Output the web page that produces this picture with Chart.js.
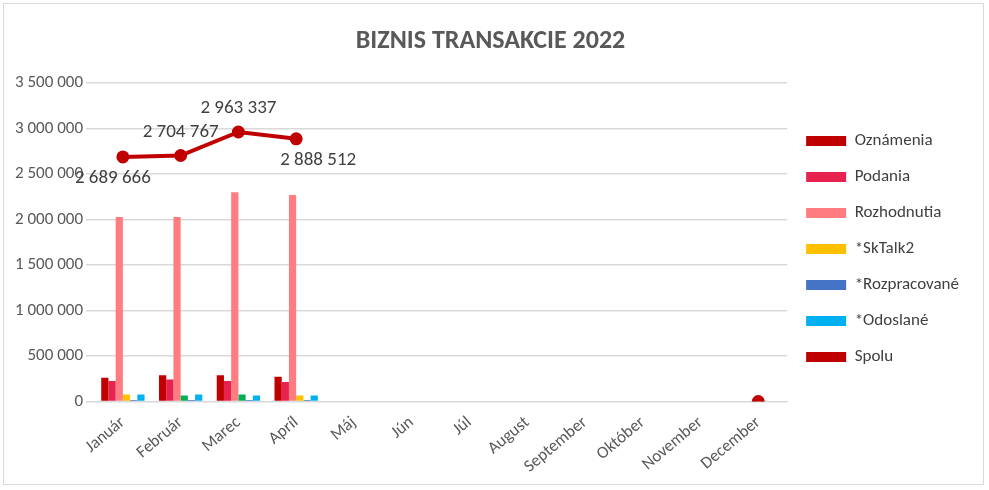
<!DOCTYPE html>
<html><head><meta charset="utf-8">
<script src="https://cdn.jsdelivr.net/npm/chart.js@4"></script>
<style>
body{margin:0;background:#fff;font-family:Calibri,Carlito,"Liberation Sans",sans-serif}
#wrap{position:absolute;left:3px;top:3px;width:981px;height:482px;border:1px solid #d9d9d9;box-sizing:border-box}
</style></head><body>
<div id="wrap"><canvas id="c"></canvas></div>
<script>
const categories=["Január","Február","Marec","Apríl","Máj","Jún","Júl","August","September","Október","November","December"];
const oznamenia=[262000,289000,289000,273000,null,null,null,null,null,null,null,null];
const podania=[227000,242000,227000,215000,null,null,null,null,null,null,null,null];
const rozhodnutia=[2030000,2030000,2300000,2270000,null,null,null,null,null,null,null,null];
const sktalk2=[78000,66000,78000,66000,null,null,null,null,null,null,null,null];
const rozpracovane=[16000,16000,16000,16000,null,null,null,null,null,null,null,null];
const odoslane=[78000,78000,66000,66000,null,null,null,null,null,null,null,null];
const spolu=[2689666,2704767,2963337,2888512,null,null,null,null,null,null,null,0];
const spoluLabelPos=["below","above","above","below"];
const F='Calibri, Carlito, "Liberation Sans", sans-serif';
const fmt=v=>String(Math.round(v)).replace(/\B(?=(\d{3})+(?!\d))/g,' ');
const labelPlugin={id:'lbl',afterDatasetsDraw(ch){
  const ctx=ch.ctx,meta=ch.getDatasetMeta(6);
  ctx.save();ctx.font='19px '+F;ctx.fillStyle='#404040';ctx.textAlign='center';
  spoluLabelPos.forEach((p,i)=>{const pt=meta.data[i];if(!pt)return;
    ctx.textBaseline=p==='above'?'bottom':'top';
    ctx.fillText(fmt(spolu[i]),pt.x+(i===0?-10:(i===3?22:0)),p==='above'?pt.y-14:pt.y+12);});
  ctx.restore();}};
new Chart(document.getElementById('c'),{
 data:{labels:categories,datasets:[
  {type:'bar',label:'Oznámenia',data:oznamenia,backgroundColor:'#c00000',order:2},
  {type:'bar',label:'Podania',data:podania,backgroundColor:'#e8224e',order:2},
  {type:'bar',label:'Rozhodnutia',data:rozhodnutia,backgroundColor:'#ff7c80',order:2},
  {type:'bar',label:'*SkTalk2',data:sktalk2,backgroundColor:['#ffc000','#00b050','#00b050','#ffc000'],order:2},
  {type:'bar',label:'*Rozpracované',data:rozpracovane,backgroundColor:'#4472c4',order:2},
  {type:'bar',label:'*Odoslané',data:odoslane,backgroundColor:'#00b0f0',order:2},
  {type:'line',label:'Spolu',data:spolu,borderColor:'#c00000',backgroundColor:'#c00000',borderWidth:4,pointRadius:4.5,pointBackgroundColor:'#c00000',order:1}
 ]},
 options:{responsive:true,maintainAspectRatio:false,animation:false,
  layout:{padding:{left:8,right:14,top:14,bottom:4}},
  datasets:{bar:{categoryPercentage:0.75,barPercentage:1}},
  plugins:{title:{display:true,text:'BIZNIS TRANSAKCIE 2022',color:'#595959',font:{size:26,weight:'bold',family:F},padding:{top:8,bottom:26}},
   legend:{position:'right',labels:{color:'#404040',font:{size:17,family:F},boxWidth:40,boxHeight:10,padding:19,
    generateLabels(ch){return ch.data.datasets.map((d,i)=>({text:d.label,fillStyle:i===3?'#ffc000':(Array.isArray(d.backgroundColor)?d.backgroundColor[0]:d.backgroundColor),strokeStyle:'transparent',lineWidth:0,datasetIndex:i,fontColor:'#404040'}));}}},
   tooltip:{enabled:false}},
  scales:{x:{grid:{display:false},border:{color:'#d9d9d9'},ticks:{color:'#595959',maxRotation:40,minRotation:40,font:{size:17,family:F}}},
   y:{min:0,max:3500000,ticks:{stepSize:500000,color:'#595959',callback:v=>fmt(v),font:{size:17,family:F}},grid:{color:'#d9d9d9',lineWidth:1.5},border:{display:false}}}},
 plugins:[labelPlugin]});
</script></body></html>
